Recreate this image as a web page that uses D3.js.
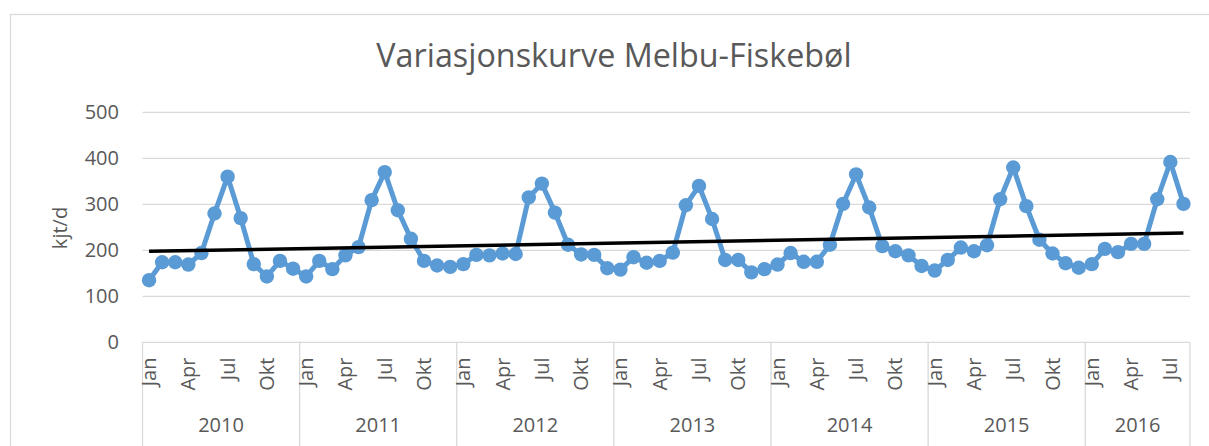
<!DOCTYPE html>
<html>
<head>
  <meta charset="utf-8">
  <script src="https://d3js.org/d3.v7.min.js"></script>
  <style>
    body { margin: 0; background: #fff; }
    text { font-family: "Open Sans", sans-serif; fill: #595959; }
  </style>
</head>
<body>
  <svg width="1209" height="446"></svg>

  <script>
    // Monthly traffic (kjt/d), Jan 2010 - Aug 2016
    var years = ["2010", "2011", "2012", "2013", "2014", "2015", "2016"];
    var months = ["Jan", "Feb", "Mar", "Apr", "Mai", "Jun", "Jul", "Aug", "Sep", "Okt", "Nov", "Des"];
    var yTicks = [0, 100, 200, 300, 400, 500];

    var v2010 = [135, 174, 174, 169, 194, 280, 360, 270, 170, 143, 177, 160];
    var v2011 = [143, 177, 159, 189, 207, 309, 370, 287, 225, 177, 167, 164];
    var v2012 = [170, 190, 189, 193, 192, 315, 345, 282, 212, 191, 190, 161];
    var v2013 = [158, 185, 173, 177, 195, 298, 340, 268, 179, 179, 152, 159];
    var v2014 = [169, 194, 175, 175, 212, 301, 365, 293, 209, 198, 189, 166];
    var v2015 = [156, 179, 206, 198, 211, 311, 380, 296, 223, 193, 172, 162];
    var v2016 = [170, 203, 196, 214, 214, 311, 392, 301];

    var yearValues = [v2010, v2011, v2012, v2013, v2014, v2015, v2016];

    // flatten to one row per month
    var data = [];
    yearValues.forEach(function(vals, yi) {
      vals.forEach(function(v, mi) {
        data.push({ i: data.length, year: years[yi], month: months[mi], m: mi, value: v });
      });
    });

    var svg = d3.select("svg");
    var plotLeft = 142.5, plotRight = 1190, plotTop = 112.3, plotBottom = 342.3;

    // chart border
    svg.append("rect")
      .attr("x", 10.5).attr("y", 14.5)
      .attr("width", 1220).attr("height", 460)
      .attr("fill", "none")
      .attr("stroke", "#d9d9d9")
      .attr("stroke-width", 1.3);

    var x = d3.scaleBand()
      .domain(data.map(d => d.i))
      .range([plotLeft, plotRight])
      .padding(0);

    var y = d3.scaleLinear()
      .domain([0, 500])
      .range([plotBottom, plotTop]);

    var cx = d => x(d.i) + x.bandwidth() / 2;

    // gridlines
    svg.append("g")
      .selectAll("line")
      .data(yTicks.slice(1))
      .enter()
      .append("line")
      .attr("x1", plotLeft).attr("x2", plotRight)
      .attr("y1", d => y(d)).attr("y2", d => y(d))
      .attr("stroke", "#d9d9d9")
      .attr("stroke-width", 1.3);

    // y tick labels
    svg.append("g")
      .selectAll("text")
      .data(yTicks)
      .enter()
      .append("text")
      .attr("x", 119)
      .attr("y", d => y(d))
      .attr("dy", "0.35em")
      .attr("text-anchor", "end")
      .style("font-size", "20px")
      .text(d => d);

    // y axis title
    svg.append("text")
      .attr("transform", "translate(60,228) rotate(-90)")
      .attr("text-anchor", "middle")
      .attr("dy", "0.35em")
      .style("font-size", "20px")
      .text("kjt/d");

    // category axis: base line and year separators
    svg.append("line")
      .attr("x1", plotLeft).attr("x2", plotRight)
      .attr("y1", plotBottom).attr("y2", plotBottom)
      .attr("stroke", "#d9d9d9")
      .attr("stroke-width", 1.3);

    var yearGroups = years.map(function(yr) {
      var rows = data.filter(d => d.year === yr);
      return { year: yr, x0: x(rows[0].i), x1: x(rows[rows.length - 1].i) + x.bandwidth() };
    });

    var seps = [plotLeft].concat(yearGroups.map(d => d.x1));
    svg.append("g")
      .selectAll("line")
      .data(seps)
      .enter()
      .append("line")
      .attr("x1", d => d).attr("x2", d => d)
      .attr("y1", plotBottom).attr("y2", 446)
      .attr("stroke", "#d9d9d9")
      .attr("stroke-width", 1.3);

    // month labels, every third month
    svg.append("g")
      .selectAll("text")
      .data(data.filter(d => d.m % 3 === 0))
      .enter()
      .append("text")
      .attr("transform", d => "translate(" + cx(d) + ",357.5) rotate(-90)")
      .attr("text-anchor", "end")
      .attr("dy", "0.35em")
      .style("font-size", "20px")
      .text(d => d.month);

    // year labels
    svg.append("g")
      .selectAll("text")
      .data(yearGroups)
      .enter()
      .append("text")
      .attr("x", d => (d.x0 + d.x1) / 2)
      .attr("y", 425)
      .attr("dy", "0.35em")
      .attr("text-anchor", "middle")
      .style("font-size", "20px")
      .text(d => d.year);

    // series line + markers
    var line = d3.line().x(cx).y(d => y(d.value));
    svg.append("path")
      .datum(data)
      .attr("d", line)
      .attr("fill", "none")
      .attr("stroke", "#5b9bd5")
      .attr("stroke-width", 5)
      .attr("stroke-linejoin", "round");

    svg.append("g")
      .selectAll("circle")
      .data(data)
      .enter()
      .append("circle")
      .attr("cx", cx)
      .attr("cy", d => y(d.value))
      .attr("r", 7.2)
      .attr("fill", "#5b9bd5");

    // linear trendline (least squares)
    var n = data.length;
    var mx = d3.mean(data, d => d.i), my = d3.mean(data, d => d.value);
    var slope = d3.sum(data, d => (d.i - mx) * (d.value - my)) / d3.sum(data, d => (d.i - mx) * (d.i - mx));
    var icpt = my - slope * mx;
    var trend = [data[0], data[n - 1]].map(d => ({ i: d.i, value: icpt + slope * d.i }));
    svg.append("path")
      .datum(trend)
      .attr("d", line)
      .attr("fill", "none")
      .attr("stroke", "#000")
      .attr("stroke-width", 3.5);

    // title, fitted to the reference width
    var title = svg.append("text")
      .attr("x", 614)
      .attr("y", 67)
      .attr("text-anchor", "middle")
      .style("font-size", "32px")
      .text("Variasjonskurve Melbu-Fiskebøl");
    var tw = title.node().getComputedTextLength();
    title.style("font-size", (32 * 475 / tw).toFixed(1) + "px");
  </script>
</body>
</html>
